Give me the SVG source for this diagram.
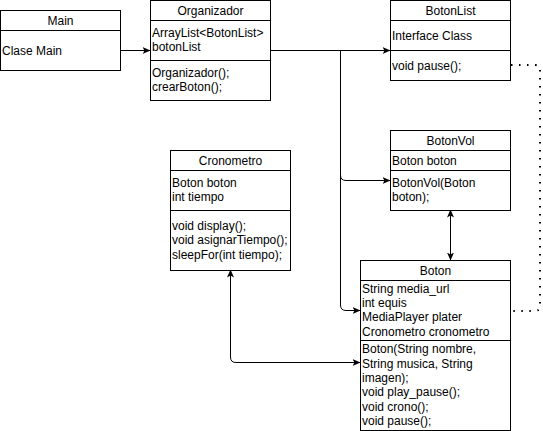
<svg xmlns="http://www.w3.org/2000/svg" width="543" height="431" viewBox="0 0 543 431">
<style>
.box{fill:#fff;stroke:#000;stroke-width:1}
.sep{stroke:#000;stroke-width:1}
text{font-family:"Liberation Sans",Arial,Helvetica,sans-serif;font-size:12px;fill:#000}
.h{text-anchor:middle}
.e{fill:none;stroke:#000;stroke-width:1}
.dot{fill:none;stroke:#000;stroke-width:2;stroke-dasharray:1.5 6.5}
</style>
<defs>
<marker id="arr" viewBox="0 0 8 7" refX="7.5" refY="3.5" markerWidth="8" markerHeight="7" markerUnits="userSpaceOnUse" orient="auto-start-reverse">
<path d="M0,0 L8,3.5 L0,7 L2,3.5 Z" fill="#000"/>
</marker>
</defs>
<rect width="543" height="431" fill="#fff"/>
<g id="connectors">
<path class="e" d="M120 50.5 H150" marker-end="url(#arr)"/>
<path class="e" d="M270 50.5 H390" marker-end="url(#arr)"/>
<path class="e" d="M340.5 50.5 V175 Q340.5 180.5 346 180.5 H390" marker-end="url(#arr)"/>
<path class="e" d="M340.5 170 V305 Q340.5 310.5 346 310.5 H360" marker-end="url(#arr)"/>
<path class="e" d="M450.5 210 V260" marker-start="url(#arr)" marker-end="url(#arr)"/>
<path class="e" d="M230.5 270 V357 Q230.5 362.5 236 362.5 H360" marker-start="url(#arr)" marker-end="url(#arr)"/>
<path class="dot" d="M511 65 H535 Q540 65 540 70 V306 Q540 311 535 311 H511"/>
</g>
<g id="main">
<rect class="box" x="0.5" y="10.5" width="120" height="60"/>
<line class="sep" x1="0.5" y1="30.5" x2="120.5" y2="30.5"/>
<text class="h" x="60.5" y="24.5">Main</text>
<text x="2" y="54.5">Clase Main</text>
</g>
<g id="organizador">
<rect class="box" x="150.5" y="0.5" width="120" height="100"/>
<line class="sep" x1="150.5" y1="20.5" x2="270.5" y2="20.5"/>
<line class="sep" x1="150.5" y1="60.5" x2="270.5" y2="60.5"/>
<text class="h" x="210.5" y="14.5">Organizador</text>
<text x="152" y="37">ArrayList&lt;BotonList&gt;</text>
<text x="152" y="51.4">botonList</text>
<text x="152" y="77">Organizador();</text>
<text x="152" y="91.4">crearBoton();</text>
</g>
<g id="botonlist">
<rect class="box" x="390.5" y="0.5" width="120" height="80"/>
<line class="sep" x1="390.5" y1="20.5" x2="510.5" y2="20.5"/>
<line class="sep" x1="390.5" y1="50.5" x2="510.5" y2="50.5"/>
<text class="h" x="450.5" y="14.5">BotonList</text>
<text x="392" y="39.5">Interface Class</text>
<text x="392" y="69.5">void pause();</text>
</g>
<g id="botonvol">
<rect class="box" x="390.5" y="130.5" width="120" height="80"/>
<line class="sep" x1="390.5" y1="150.5" x2="510.5" y2="150.5"/>
<line class="sep" x1="390.5" y1="170.5" x2="510.5" y2="170.5"/>
<text class="h" x="450.5" y="144.5">BotonVol</text>
<text x="392" y="164.5">Boton boton</text>
<text x="392" y="187">BotonVol(Boton</text>
<text x="392" y="201.4">boton);</text>
</g>
<g id="cronometro">
<rect class="box" x="170.5" y="150.5" width="120" height="120"/>
<line class="sep" x1="170.5" y1="170.5" x2="290.5" y2="170.5"/>
<line class="sep" x1="170.5" y1="210.5" x2="290.5" y2="210.5"/>
<text class="h" x="230.5" y="164.5">Cronometro</text>
<text x="172" y="187">Boton boton</text>
<text x="172" y="201.4">int tiempo</text>
<text x="172" y="229.8">void display();</text>
<text x="172" y="244.2">void asignarTiempo();</text>
<text x="172" y="258.6">sleepFor(int tiempo);</text>
</g>
<g id="boton">
<rect class="box" x="360.5" y="260.5" width="150" height="170"/>
<line class="sep" x1="360.5" y1="280.5" x2="510.5" y2="280.5"/>
<line class="sep" x1="360.5" y1="340.5" x2="510.5" y2="340.5"/>
<text class="h" x="435.5" y="274.5">Boton</text>
<text x="362" y="292.6">String media_url</text>
<text x="362" y="307">int equis</text>
<text x="362" y="321.4">MediaPlayer plater</text>
<text x="362" y="335.8">Cronometro cronometro</text>
<text x="362" y="353.2">Boton(String nombre,</text>
<text x="362" y="367.6">String musica, String</text>
<text x="362" y="382">imagen);</text>
<text x="362" y="396.4">void play_pause();</text>
<text x="362" y="410.8">void crono();</text>
<text x="362" y="425.2">void pause();</text>
</g>
</svg>
